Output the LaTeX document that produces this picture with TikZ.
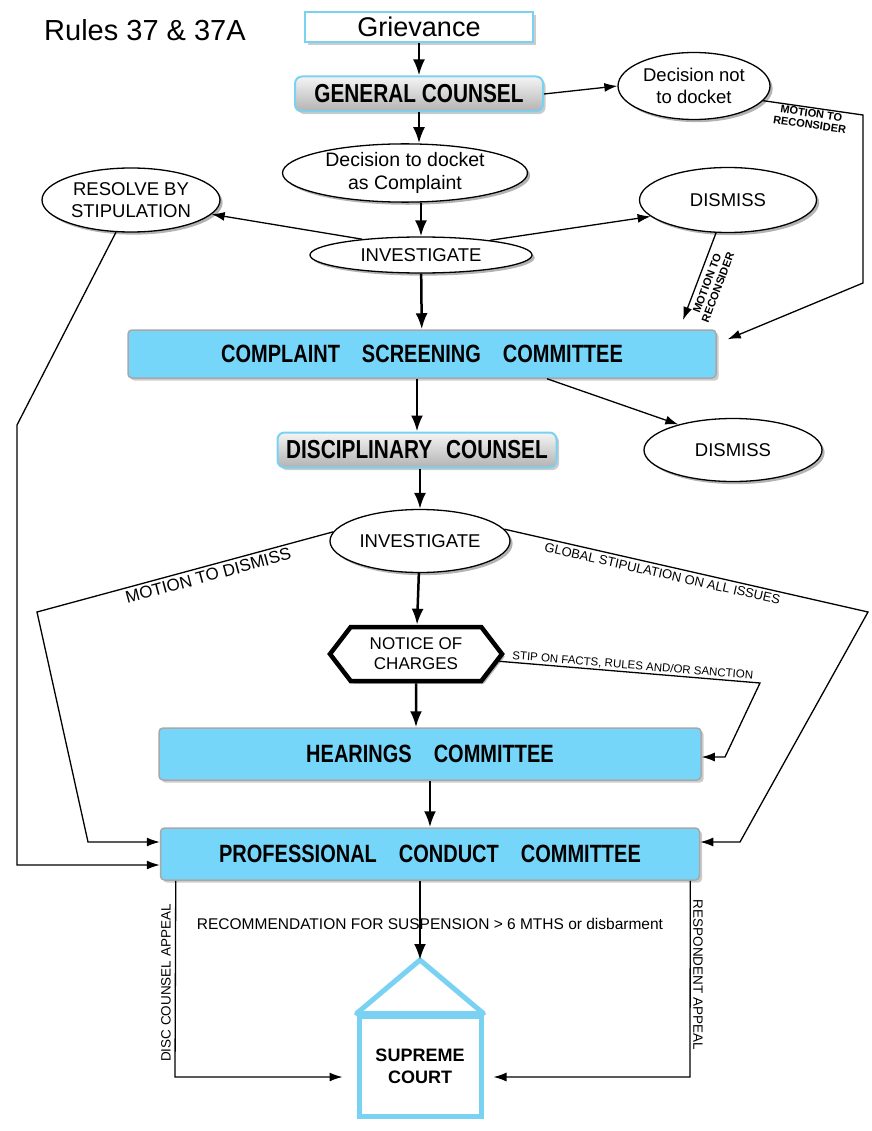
\documentclass[tikz,border=0pt]{standalone}
\usepackage{fontspec}
\setmainfont{Liberation Sans}
\newfontfamily\narrowfont[FakeStretch=0.8]{Liberation Sans}
\usetikzlibrary{shapes.geometric, shapes.symbols, arrows.meta, shadows}

\begin{document}
\begin{tikzpicture}[x=1pt, y=-1pt]

\definecolor{boxblue}{RGB}{118,214,250}
\definecolor{rimblue}{RGB}{122,210,242}
\definecolor{rimgray}{RGB}{168,168,168}

\tikzstyle{paper} = [rectangle, draw=rimblue, line width=2.5pt, fill=white, drop shadow={opacity=0.4}, inner sep=0pt, font=\fontsize{27}{30}\selectfont]
\tikzstyle{counsel} = [rectangle, rounded corners=7pt, draw=rimblue, line width=2pt, top color=gray!8, bottom color=gray!60, drop shadow={opacity=0.4}, inner sep=0pt, font=\narrowfont\bfseries\fontsize{26}{28}\selectfont]
\tikzstyle{committee} = [rectangle, rounded corners=4pt, draw=rimgray, line width=1.5pt, fill=boxblue, drop shadow={opacity=0.4}, inner sep=0pt, font=\narrowfont\bfseries\fontsize{25}{28}\selectfont]
\tikzstyle{choice} = [ellipse, draw=black, line width=1.3pt, fill=white, inner sep=0pt, align=center, drop shadow={opacity=0.6}, font=\fontsize{18.5}{22}\selectfont]
\tikzstyle{charges} = [signal, signal to=west and east, signal pointer angle=105, draw=black, line width=4.5pt, fill=white, inner sep=0pt, align=center, drop shadow={opacity=0.6}, font=\fontsize{17}{20}\selectfont]
\tikzstyle{court} = [rectangle, draw=rimblue, line width=5pt, fill=white, inner sep=0pt, align=center, drop shadow={opacity=0.6}, font=\bfseries\fontsize{18}{22}\selectfont]
\tikzstyle{arrow} = [-{Latex[length=16pt, width=12pt]}, line width=2.5pt]
\tikzstyle{flow} = [-{Latex[length=13pt, width=9pt]}, line width=1.3pt]
\tikzstyle{tag} = [font=\bfseries\fontsize{11}{11.5}\selectfont, align=center, inner sep=1pt]
\tikzstyle{route} = [font=\fontsize{17}{19}\selectfont, inner sep=3pt]
\tikzstyle{appeal} = [font=\fontsize{13.5}{15}\selectfont, inner sep=0pt]

\useasboundingbox (0,0) rectangle (871,1131);

\node[font=\fontsize{29}{31}\selectfont] (title) at (145,30) {Rules 37 \& 37A};

% main column
\node[paper, minimum width=228pt, minimum height=30pt] (griev) at (419,27) {Grievance};
\node[counsel, minimum width=248pt, minimum height=35pt] (gc) at (419,94) {GENERAL COUNSEL};
\node[choice, minimum width=152pt, minimum height=67pt] (notdock) at (694,86) {Decision not\\to docket};
\node[choice, minimum width=245pt, minimum height=54pt, font=\fontsize{19.5}{23}\selectfont] (dock) at (405,173) {Decision to docket\\as Complaint};
\node[choice, minimum width=222pt, minimum height=36pt] (inv1) at (421,255) {INVESTIGATE};
\node[choice, minimum width=178pt, minimum height=64pt] (resolve) at (131,200) {RESOLVE BY\\STIPULATION};
\node[choice, minimum width=177pt, minimum height=65pt] (dismiss1) at (728,200) {DISMISS};
\node[committee, minimum width=588pt, minimum height=48pt] (csc) at (422,354) {COMPLAINT\hspace{22pt}SCREENING\hspace{22pt}COMMITTEE};
\node[counsel, minimum width=279pt, minimum height=35pt] (dc) at (417,450) {DISCIPLINARY\hspace{14pt}COUNSEL};
\node[choice, minimum width=178pt, minimum height=63pt] (dismiss2) at (733,450) {DISMISS};
\node[choice, minimum width=180pt, minimum height=63pt] (inv2) at (420,541) {INVESTIGATE};
\node[charges, minimum width=172pt, minimum height=54pt] (notice) at (416,654) {NOTICE OF\\CHARGES};
\node[committee, minimum width=542pt, minimum height=52pt] (hc) at (430,754) {HEARINGS\hspace{22pt}COMMITTEE};
\node[committee, minimum width=539pt, minimum height=52pt] (pcc) at (430,854) {PROFESSIONAL\hspace{22pt}CONDUCT\hspace{22pt}COMMITTEE};
\node[court, minimum width=122pt, minimum height=100pt] (sc) at (420,1066) {SUPREME\\COURT};
\coordinate (peak) at (420,960);
\draw[rimblue, line width=5pt, fill=white, line join=round] (sc.north west) -- (peak) -- (sc.north east) -- cycle;

% bends
\coordinate (mtr1) at (863,115);
\coordinate (mtr2) at (863,283);
\coordinate (mtr3) at (683,320);
\coordinate (res1) at (17,425);
\coordinate (res2) at (17,865);
\coordinate (mot1) at (37,612);
\coordinate (mot2) at (88,842);
\coordinate (glo1) at (868,612);
\coordinate (glo2) at (740,842);
\coordinate (stip1) at (760,683);
\coordinate (stip2) at (725,757);
\coordinate (dca1) at (175,1077);
\coordinate (rsp1) at (690,1077);

\draw[arrow] (griev) -- (gc);
\draw[flow] (gc.east) -- (notdock.west);
\draw[flow] (notdock.-12) -- node[tag, sloped, below, pos=0.49] {MOTION TO\\RECONSIDER} (mtr1) -- (mtr2) -- ([xshift=11pt, yshift=-10pt]csc.north east);
\draw[arrow] (gc) -- (gc |- dock.north);
\draw[arrow] (dock.south -| inv1) -- (inv1);
\draw[flow] (inv1.165) -- (resolve.-10);
\draw[flow] (inv1.12) -- (dismiss1.192);
\draw[flow] (dismiss1.250) -- node[tag, sloped, below, pos=0.54, inner sep=5pt] {MOTION TO\\RECONSIDER} (mtr3);
\draw[arrow] (inv1) -- (csc);
\draw[flow] (resolve.245) -- (res1) -- (res2) -- (res2 -| pcc.west);

\draw[arrow] (csc.south -| dc) -- (dc);
\draw[flow] ([xshift=125pt]csc.south) -- (dismiss2.155);
\draw[arrow] (dc.south -| inv2) -- (inv2);
\draw[flow] (inv2.174) -- node[route, sloped, below, pos=0.43] {MOTION TO DISMISS} (mot1) -- (mot2) -- (mot2 -| pcc.west);
\draw[flow] (inv2.8) -- node[route, sloped, below, pos=0.44, font=\fontsize{13}{15}\selectfont] {GLOBAL STIPULATION ON ALL ISSUES} (glo1) -- (glo2) -- (glo2 -| pcc.east);
\draw[arrow] (inv2) -- (notice);
\draw[flow] (notice.-5) -- node[route, sloped, above, pos=0.51, inner sep=1pt, font=\fontsize{11.5}{13}\selectfont] {STIP ON FACTS, RULES AND/OR SANCTION} (stip1) -- (stip2) -- (stip2 -| hc.east);
\draw[arrow] (notice) -- (notice |- hc.north);
\draw[arrow] (hc) -- (pcc);

\node[font=\fontsize{15.5}{17}\selectfont] (recom) at (430,924) {RECOMMENDATION FOR SUSPENSION > 6 MTHS or disbarment};
\draw[arrow] (pcc.south -| peak) -- (peak);
\draw[flow, shorten >=14pt] ([xshift=16pt]pcc.south west) -- (dca1) -- (dca1 -| sc.west);
\draw[flow, shorten >=10pt] ([xshift=-10pt]pcc.south east) -- (rsp1) -- (rsp1 -| sc.east);
\node[appeal, rotate=90] (dca) at (166,983) {DISC COUNSEL APPEAL};
\node[appeal, rotate=-90] (rsa) at (698,975) {RESPONDENT APPEAL};

\end{tikzpicture}
\end{document}
